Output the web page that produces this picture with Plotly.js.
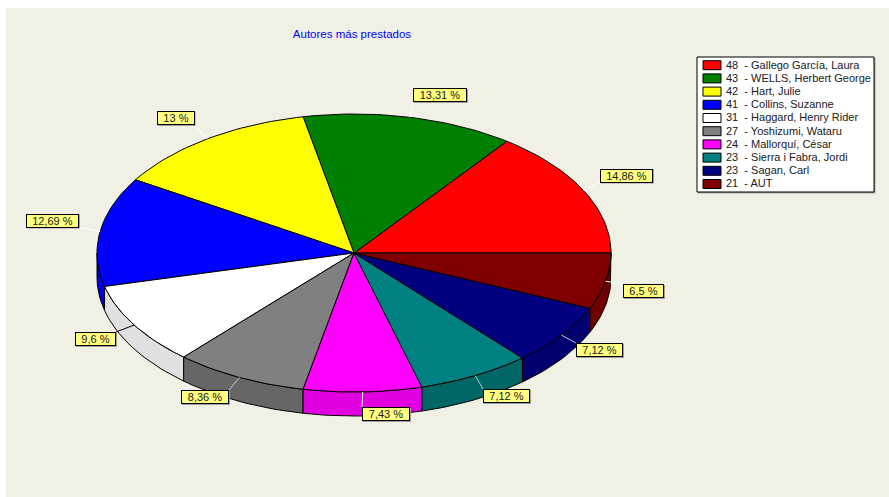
<!DOCTYPE html>
<html>
<head>
<meta charset="utf-8">
<script src="https://cdn.plot.ly/plotly-3.0.1.min.js"></script>
<style>html,body{margin:0;padding:0;background:#fff;overflow:hidden}#chart{width:889px;height:497px}</style>
</head>
<body>
<div id="chart"></div>
<script>
var authors = ["Gallego García, Laura","WELLS, Herbert George","Hart, Julie","Collins, Suzanne","Haggard, Henry Rider","Yoshizumi, Wataru","Mallorquí, César","Sierra i Fabra, Jordi","Sagan, Carl","AUT"];
var counts = [48,43,42,41,31,27,24,23,23,21];
var topColors = ["#FF0000","#008000","#FFFF00","#0000FF","#FFFFFF","#808080","#FF00FF","#008080","#000080","#800000"];
var wallColors = ["#CC0000","#006600","#CCCC00","#0000E6","#E0E0E0","#666666","#E000E0","#006666","#000070","#700000"];
var leaderColors = ["#FFFFFF","#FFFFFF","#FFFFFF","#FFFFFF","#000000","#C8C8C8","#FFFFFF","#A8CCCC","#C8C8C8","#FFFFFF"];
var labelX = [626.5,440,175.5,52.5,95.5,205,386,506.5,599.5,643.5];
var labelY = [175.5,95,118,220.5,339,397,414,396,350,291];
var labelW = [53,54,38,53,41,48,48,47,47,41];
var cornerX = [-1,-1,1,1,1,1,-1,-1,-1,-1];
var cornerY = [1,1,1,1,-1,-1,-1,-1,-1,-1];

var cx = 354, cy = 253, rx = 257, ry = 139, depth = 24, labelH = 14;
var fontFam = "Liberation Sans, Arial, sans-serif";
var total = counts.reduce(function(a,b){return a+b;},0);
function px(deg){return cx + rx*Math.cos(deg*Math.PI/180);}
function py(deg){return cy - ry*Math.sin(deg*Math.PI/180);}
function arc(a0,a1){var n=Math.max(2,Math.ceil((a1-a0)/1.5)),r=[];for(var i=0;i<=n;i++){r.push(a0+(a1-a0)*i/n);}return r;}

var wallTraces = [], topTraces = [], annotations = [], shapes = [];
var cum = 0;
authors.forEach(function(name,i){
  var a0 = cum/total*360; cum += counts[i]; var a1 = cum/total*360;
  var angles = arc(a0,a1);
  var xs=[cx].concat(angles.map(px),[cx]);
  var ys=[cy].concat(angles.map(py),[cy]);
  topTraces.push({type:"scatter",mode:"lines",x:xs,y:ys,fill:"toself",fillcolor:topColors[i],
    line:{color:"#000000",width:1},name:counts[i]+" - "+name,showlegend:false,hoverinfo:"name"});
  var w0=Math.max(a0,180), w1=a1;
  if(w1>w0){
    var wa=arc(w0,w1), wr=wa.slice().reverse();
    var wx=wa.map(px).concat(wr.map(px),[px(w0)]);
    var wy=wa.map(py).concat(wr.map(function(d){return py(d)+depth;}),[py(w0)]);
    wallTraces.push({type:"scatter",mode:"lines",x:wx,y:wy,fill:"toself",fillcolor:wallColors[i],
      line:{color:"#000000",width:1},showlegend:false,hoverinfo:"skip"});
  }
  var mid=(a0+a1)/2;
  var pct=parseFloat((counts[i]/total*100).toFixed(2)).toString().replace(".",",")+" %";
  var w=labelW[i];
  shapes.push({type:"line",xref:"x",yref:"y",layer:"above",x0:px(mid),y0:py(mid),
    x1:labelX[i]+cornerX[i]*w/2,y1:labelY[i]+cornerY[i]*labelH/2,line:{color:leaderColors[i],width:1}});
  shapes.push({type:"rect",xref:"x",yref:"y",layer:"above",x0:labelX[i]-w/2+1,x1:labelX[i]+w/2+1,y0:labelY[i]-labelH/2+1,y1:labelY[i]+labelH/2+1,
    fillcolor:"#A0A0A0",line:{width:0}});
  annotations.push({xref:"x",yref:"y",x:labelX[i],y:labelY[i],xanchor:"center",yanchor:"middle",
    text:pct,showarrow:false,
    width:w-2,height:labelH-2,bgcolor:"#FFFF80",bordercolor:"#000000",borderwidth:1,borderpad:0,
    font:{family:fontFam,size:11,color:"#202020"},align:"center",valign:"middle"});
});

var legX0=697, legX1=874, legY0=57, legY1=192, rowH=13.2, rowY0=65.2;
shapes.push({type:"rect",xref:"x",yref:"y",layer:"above",x0:legX0+1,x1:legX1+1.5,y0:legY0+1,y1:legY1+1.5,fillcolor:"#A0A0A0",line:{width:0}});
shapes.push({type:"rect",xref:"x",yref:"y",layer:"above",x0:legX0,x1:legX1,y0:legY0,y1:legY1,fillcolor:"#FFFFFF",line:{color:"#000000",width:1}});
authors.forEach(function(name,i){
  var yy=rowY0+i*rowH;
  shapes.push({type:"rect",xref:"x",yref:"y",layer:"above",x0:703,x1:721,y0:yy-4.5,y1:yy+4.5,fillcolor:topColors[i],line:{color:"#000000",width:1}});
  annotations.push({xref:"x",yref:"y",x:724.5,y:yy-0.6,xanchor:"left",yanchor:"middle",showarrow:false,borderpad:0,
    text:counts[i]+"\u00a0\u00a0- "+name,font:{family:fontFam,size:11,color:"#202020"}});
});

Plotly.newPlot("chart",wallTraces.concat(topTraces),{
  width:889,height:497,autosize:false,
  margin:{l:6,t:8,r:0,b:0,pad:0},
  paper_bgcolor:"#FFFFFF",plot_bgcolor:"#F0F0E4",
  showlegend:false,
  title:{text:"Autores más prestados",font:{family:fontFam,size:11.5,color:"#0000FF"},
    xref:"container",yref:"container",x:352/889,xanchor:"center",y:1-34/497,yanchor:"middle"},
  xaxis:{range:[6,889],visible:false,fixedrange:true},
  yaxis:{range:[497,8],visible:false,fixedrange:true},
  shapes:shapes,annotations:annotations
},{displayModeBar:false,staticPlot:true});
</script>
</body>
</html>
